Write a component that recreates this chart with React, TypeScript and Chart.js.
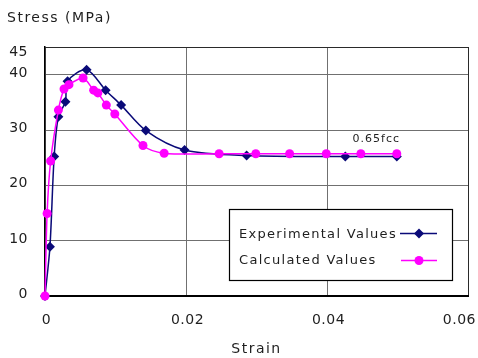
import React, { useEffect, useRef } from "react";
import { Chart, registerables } from "chart.js";

Chart.register(...registerables);

// ---- data ----
const expStrain = [0, 0.0007, 0.0013, 0.0019, 0.0029, 0.0032, 0.0059, 0.0086, 0.0108, 0.0143, 0.0198, 0.0286, 0.0426, 0.0499];
const expStress = [0, 8.9, 25.2, 32.4, 35.1, 38.8, 40.9, 37.2, 34.5, 29.9, 26.4, 25.4, 25.2, 25.2];

const calcStrain = [0, 0.0003, 0.0008, 0.0019, 0.0027, 0.0034, 0.0054, 0.0069, 0.0075, 0.0087, 0.0099, 0.0139, 0.0169, 0.0247, 0.0299, 0.0347, 0.0399, 0.0448, 0.0499];
const calcStress = [0, 14.9, 24.4, 33.6, 37.4, 38.2, 39.4, 37.2, 36.7, 34.5, 32.9, 27.2, 25.8, 25.7, 25.7, 25.7, 25.7, 25.7, 25.7];

const seriesNames = ["Experimental Values", "Calculated Values"];

const xTicks = [0, 0.02, 0.04, 0.06];
const xTickLabels = ["0", "0.02", "0.04", "0.06"];
const yTicks = [0, 10, 20, 30, 40, 45];
const yTickLabels = ["0", "10", "20", "30", "40", "45"];

const xTitle = "Strain";
const yTitle = "Stress (MPa)";
const annotationText = "0.65fcc";
const annotationStrain = 0.047;
const annotationStress = 28.3;

const FONT = '"DejaVu Sans", Verdana, sans-serif';
const NAVY = "#0a0a78";
const MAGENTA = "#ff00ff";
const TEXT = "#1e1e1e";

const textPlugin = {
  id: "customText",
  afterDraw(chart: any) {
    const ctx = chart.ctx as CanvasRenderingContext2D;
    const { left, right, top } = chart.chartArea;
    const xs = chart.scales.x;
    const ys = chart.scales.y;
    ctx.save();
    ctx.fillStyle = TEXT;

    // y tick labels
    ctx.font = `14px ${FONT}`;
    (ctx as any).letterSpacing = "0.5px";
    ctx.textAlign = "right";
    ctx.textBaseline = "middle";
    yTicks.forEach((v, i) => {
      const py = Math.max(ys.getPixelForValue(v) - 1.5, top + 5);
      ctx.fillText(yTickLabels[i], 28, py);
    });

    // x tick labels
    ctx.textAlign = "center";
    xTicks.forEach((v, i) => {
      const w = ctx.measureText(xTickLabels[i]).width;
      const cx = Math.min(xs.getPixelForValue(v) + 1.5, chart.width - 2 - w / 2);
      ctx.fillText(xTickLabels[i], cx, 320);
    });

    // axis titles
    (ctx as any).letterSpacing = "1.5px";
    ctx.textAlign = "left";
    ctx.fillText(yTitle, 7, 18);
    ctx.textAlign = "center";
    ctx.fillText(xTitle, (left + right) / 2, 349);

    // annotation
    ctx.font = `11px ${FONT}`;
    (ctx as any).letterSpacing = "1px";
    ctx.fillText(annotationText, xs.getPixelForValue(annotationStrain), ys.getPixelForValue(annotationStress));

    // legend
    const bx = 229.5, by = 209.5, bw = 223, bh = 71;
    (ctx as any).letterSpacing = "0px";
    ctx.fillStyle = "#ffffff";
    ctx.fillRect(bx, by, bw, bh);
    ctx.strokeStyle = "#000";
    ctx.lineWidth = 1.2;
    ctx.strokeRect(bx, by, bw, bh);

    ctx.font = `13px ${FONT}`;
    (ctx as any).letterSpacing = "1.3px";
    ctx.fillStyle = TEXT;
    ctx.textAlign = "left";
    ctx.fillText(seriesNames[0], 239, 235);
    ctx.fillText(seriesNames[1], 239, 261);

    // legend sample 1
    ctx.strokeStyle = NAVY;
    ctx.lineWidth = 1.5;
    ctx.beginPath();
    ctx.moveTo(400, 233.5);
    ctx.lineTo(437, 233.5);
    ctx.stroke();
    ctx.fillStyle = NAVY;
    ctx.beginPath();
    ctx.moveTo(419, 228.5);
    ctx.lineTo(424, 233.5);
    ctx.lineTo(419, 238.5);
    ctx.lineTo(414, 233.5);
    ctx.closePath();
    ctx.fill();

    // legend sample 2
    ctx.strokeStyle = MAGENTA;
    ctx.beginPath();
    ctx.moveTo(401, 260.5);
    ctx.lineTo(437, 260.5);
    ctx.stroke();
    ctx.fillStyle = MAGENTA;
    ctx.beginPath();
    ctx.arc(419, 260.5, 4.5, 0, Math.PI * 2);
    ctx.fill();

    ctx.restore();
  },
};

export default function App() {
  const ref = useRef<HTMLCanvasElement | null>(null);

  useEffect(() => {
    document.body.style.margin = "0";
    if (!ref.current) return;
    const chart = new Chart(ref.current, {
      type: "line",
      data: {
        datasets: [
          {
            label: seriesNames[0],
            data: expStrain.map((x, i) => ({ x, y: expStress[i] })),
            borderColor: NAVY,
            backgroundColor: NAVY,
            borderWidth: 1.5,
            pointStyle: "rectRot",
            pointRadius: 5,
            pointBorderWidth: 0,
            tension: 0.3,
            clip: 10,
            order: 1,
          },
          {
            label: seriesNames[1],
            data: calcStrain.map((x, i) => ({ x, y: calcStress[i] })),
            borderColor: MAGENTA,
            backgroundColor: MAGENTA,
            borderWidth: 1.5,
            pointStyle: "circle",
            pointRadius: 4.5,
            pointBorderWidth: 0,
            tension: 0.3,
            clip: 10,
            order: 0,
          },
        ],
      },
      options: {
        responsive: false,
        maintainAspectRatio: false,
        animation: false,
        layout: { padding: { left: 45, top: 47, right: 10, bottom: 62 } },
        plugins: {
          legend: { display: false },
          tooltip: { enabled: false },
          title: { display: false },
        },
        scales: {
          x: {
            type: "linear",
            min: 0,
            max: 0.06,
            afterBuildTicks: (s: any) => {
              s.ticks = xTicks.map((v) => ({ value: v }));
            },
            ticks: { display: false },
            grid: {
              drawTicks: false,
              lineWidth: 1,
              color: (c: any) => (c.tick && c.tick.value === 0.06 ? "#2a2a2a" : "#707070"),
            },
            border: { color: "#000", width: 2 },
          },
          y: {
            type: "linear",
            min: 0,
            max: 45,
            afterBuildTicks: (s: any) => {
              s.ticks = yTicks.map((v) => ({ value: v }));
            },
            ticks: { display: false },
            grid: {
              drawTicks: false,
              lineWidth: 1,
              color: (c: any) => (c.tick && c.tick.value === 45 ? "#2a2a2a" : "#707070"),
            },
            border: { color: "#000", width: 1.5 },
          },
        },
      },
      plugins: [textPlugin],
    });
    return () => chart.destroy();
  }, []);

  return <canvas ref={ref} width={478} height={358} style={{ display: "block" }} />;
}
